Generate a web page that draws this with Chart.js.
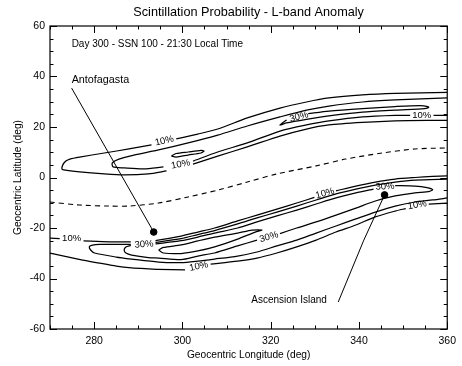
<!DOCTYPE html>
<html>
<head>
<meta charset="utf-8">
<script src="https://cdn.jsdelivr.net/npm/chart.js@4.4.1/dist/chart.umd.min.js"></script>
<style>
  html, body { margin: 0; padding: 0; background: #fff; }
</style>
</head>
<body>
<canvas id="chart" width="462" height="366"></canvas>
<script>
// axis ranges and tick labels
const xRange = [270, 360];
const yRange = [-60, 60];
const xTicks = [280, 300, 320, 340, 360];
const yTicks = [-60, -40, -20, 0, 20, 40, 60];

// contour lines as [longitude, latitude], null = gap for a label
const north10 = [[360,33.7],[348.2,33.3],[340.8,32.7],[333.2,31.5],[328.1,29.9],[322.1,27.5],[314.7,23.6],[308,19.2],[303.5,17.2],[298.6,15.3], null,
  [293,12.9],[287.9,11.3],[282.3,9.7],[276.7,8.1],[274.5,7.3],[273.6,6.5],[272.9,5.0],[272.7,3.4],[273.1,3.0],[276.7,2.2],[282.3,1.4],[286.8,1.0],[292.3,1.4],[296.4,2.6], null,
  [302.4,5.3],[308,8.5],[314.7,12.1],[322.1,16.4],[328.1,19.2],[333.2,20.8],[340.8,21.8],[348.2,22.4],[355.6,22.6],[360,22.6]];
const north20 = [[360,31.5],[348.2,30.7],[340.8,29.9],[333.2,28.3],[328.1,26.7],[322.1,24.0],[314.7,20.4],[308,16.8],[301.3,13.7],[294.6,10.9],[289,8.9],[285.6,7.3],[284.1,5.7],[284.3,4.2],[286.8,3.8],[291.2,3.4],[295.7,4.2], null,
  [302.4,6.5],[308,10.1],[314.7,13.7],[322.1,18.4],[328.1,20.8],[333.2,22.4],[340.8,24.0],[348.2,24.6],[351.6,24.6], null, [356.9,24.6],[360,24.6]];
const north30 = [[328.5,25.3],[333.2,26.3],[340.8,27.3],[348.2,28.1],[353.8,28.5],[355.6,28.1],[355.8,27.7],[354.9,27.3],[348.2,26.7],[340.8,25.9],[333.2,24.4],[328.1,23.0],[323.6,21.6],[322.1,20.8],[323.6,22.8]];
const north30Island = [[297.5,8.5],[298.6,9.5],[301.3,10.1],[304.2,10.7],[304.9,10.5],[304.2,9.7],[301.3,8.9],[298.6,8.1],[297.5,8.5]];

const south10 = [[270,-24.0],[272.2,-24.2], null,
  [277.6,-25.1],[283.4,-25.5],[288.3,-25.5], null,
  [293.9,-25.0],[299.7,-23.2],[303.5,-21.6],[307.3,-20.0],[312.5,-17.2],[316.9,-14.9],[321.4,-12.5],[325.9,-10.1],[329.9,-7.9], null,
  [334.8,-5.3],[339.3,-3.4],[343.7,-1.8],[348.2,-0.6],[352.7,0.0],[356.7,0.4],[360,0.6], null,
  [270,-29.9],[277.4,-32.7],[281.2,-33.9],[285,-35.1],[288.5,-35.8],[292.3,-36.2],[294.6,-36.4],[300.6,-36.6], null,
  [306.4,-34.3],[312.5,-33.1],[316.9,-31.9],[321.4,-29.9],[325.9,-27.5],[330.3,-24.8],[334.8,-21.6],[339.3,-18.8],[343.7,-15.6],[348.2,-13.3],[350.6,-12.3], null,
  [355.8,-10.5],[360,-10.1]];
const south20 = [[360,-0.6],[352.7,-1.0],[348.2,-1.8],[343.7,-3.0],[339.3,-4.6],[334.8,-6.5],[330.3,-8.9],[325.9,-11.3],[321.4,-13.7],[316.9,-16.0],[312.5,-18.4],[307.3,-21.0],[303.5,-22.6],[299.7,-24.2],[293.9,-25.7], null,
  [288.3,-26.5],[281.2,-26.5],[279.4,-26.9],[278.9,-27.5],[279.2,-28.7],[280.1,-29.9],[285,-31.5],[288.5,-32.3],[294.6,-33.5],[299.7,-33.7],[303.5,-33.1],[307.3,-32.3],[312.5,-31.1],[316.9,-29.5],[321.4,-27.1],[325.9,-24.8],[330.3,-22.0],[334.8,-19.2],[339.3,-16.4],[343.7,-13.7],[348.2,-11.3],[352.7,-9.7],[356.7,-8.9],[360,-8.1]];
const south30 = [[293.9,-26.3],[299.7,-25.0],[303.5,-23.6],[307.3,-22.0],[312.5,-20.0],[316.9,-17.6],[321.4,-15.2],[325.9,-12.9],[330.3,-10.5],[334.8,-8.1],[339.3,-6.1],[343.3,-4.6], null,
  [348.2,-3.2],[352.7,-3.4],[355.4,-4.0],[356.7,-4.8],[356,-5.5],[352.7,-6.1],[348.2,-7.3],[343.7,-9.3],[339.3,-12.1],[334.8,-14.9],[330.3,-17.6],[325.9,-20.0],[322.1,-22.2], null,
  [316.9,-24.8],[312.5,-27.1],[307.3,-29.9],[303.5,-31.1],[299.7,-32.5],[294.6,-31.9],[292.3,-31.7],[288.5,-30.7],[287.2,-29.9],[286.8,-28.7],[287.2,-27.5],[288.3,-26.9]];
const south40 = [[294.6,-28.7],[295.7,-27.7],[299.7,-26.7],[303.5,-25.1],[307.3,-23.6],[312.5,-22.0],[315.8,-20.8],[318,-20.8],[316.5,-21.6],[312.5,-24.4],[307.3,-27.5],[303.5,-29.1],[299.7,-30.1],[295.7,-29.9],[294.6,-28.7]];

// dashed line
const dipEquator = [[270,-9.7],[276.7,-10.9],[283.4,-11.3],[287.9,-11.3],[294.6,-10.1],[301.3,-7.7],[308,-5.0],[314.7,-1.8],[321.4,1.4],[330.3,4.6],[337,7.3],[345.3,9.7],[352.7,11.3],[360,11.7]];

// stations and leader lines
const stations = [[293.5,-21.6],[345.8,-6.9]];
const antofagastaLeader = [[274.9,35.4],[293.5,-21.6]];
const ascensionLeader = [[345.8,-6.9],[341.1,-24.8],[335.3,-49.3]];

// contour labels: text, lon, lat, angle (deg)
const contourLabels = [
  ['10%', 295.9, 14.5, -13], ['10%', 299.6, 5.2, -11], ['10%', 354.2, 24.6, 0], ['30%', 326.4, 24.0, -15],
  ['10%', 274.9, -24.0, 0], ['30%', 291.3, -26.5, -4], ['10%', 303.7, -35.2, -12], ['30%', 319.6, -23.6, -16],
  ['10%', 332.3, -6.3, -16], ['30%', 345.9, -3.6, -4], ['10%', 353.2, -10.9, -10]
];
const notes = [
  ['Day 300 - SSN 100 - 21:30 Local Time', 274.9, 52.9, 10],
  ['Antofagasta', 274.9, 38.6, 10.8],
  ['Ascension Island', 315.6, -48.5, 10]
];
const titleText = 'Scintillation Probability - L-band Anomaly';

const FONT = '"Liberation Sans", Arial, Helvetica, sans-serif';
Chart.defaults.font.family = FONT;
Chart.defaults.color = '#000';

function segments(points) {
  const out = [];
  let cur = [];
  points.forEach(p => {
    if (p === null) { if (cur.length) out.push(cur); cur = []; }
    else cur.push({ x: p[0], y: p[1] });
  });
  if (cur.length) out.push(cur);
  return out;
}

const datasets = [];
[north10, north20, north30, north30Island, south10, south20, south30, south40].forEach(c => {
  segments(c).forEach(seg => datasets.push({
    data: seg, showLine: true, pointRadius: 0, borderColor: '#000', borderWidth: 1.25, tension: 0.25
  }));
});
datasets.push({ data: segments(dipEquator)[0], showLine: true, pointRadius: 0, borderColor: '#000', borderWidth: 1.1, borderDash: [5, 4], tension: 0.3 });
[antofagastaLeader, ascensionLeader].forEach(l => datasets.push({
  data: segments(l)[0], showLine: true, pointRadius: 0, borderColor: '#000', borderWidth: 1, tension: 0
}));
datasets.push({ data: segments(stations)[0], showLine: false, pointRadius: 3.3, backgroundColor: '#000', borderColor: '#000' });

// inward ticks, frame and text
const decorations = {
  id: 'decorations',
  afterDatasetsDraw(chart) {
    const { ctx, chartArea: a, scales: { x, y } } = chart;
    ctx.save();
    ctx.strokeStyle = '#000';
    ctx.lineWidth = 1;
    ctx.beginPath();
    for (let v = xRange[0]; v <= xRange[1]; v += 5) {
      const px = Math.round(x.getPixelForValue(v)) + 0.5;
      const len = v % 20 === 0 ? 7 : 3.5;
      ctx.moveTo(px, a.bottom); ctx.lineTo(px, a.bottom - len);
      ctx.moveTo(px, a.top); ctx.lineTo(px, a.top + len);
    }
    for (let v = yRange[0]; v <= yRange[1]; v += 5) {
      const py = Math.round(y.getPixelForValue(v)) + 0.5;
      const len = v % 20 === 0 ? 7 : 3.5;
      ctx.moveTo(a.left, py); ctx.lineTo(a.left + len, py);
      ctx.moveTo(a.right, py); ctx.lineTo(a.right - len, py);
    }
    ctx.stroke();
    ctx.lineWidth = 1.2;
    ctx.strokeRect(a.left, a.top, a.right - a.left, a.bottom - a.top);

    ctx.fillStyle = '#000';
    ctx.textBaseline = 'middle';
    ctx.textAlign = 'center';
    ctx.font = '12.7px ' + FONT;
    ctx.fillText(titleText, (a.left + a.right) / 2, 12.5);

    ctx.font = '9.5px ' + FONT;
    contourLabels.forEach(([t, lon, lat, rot]) => {
      ctx.save();
      ctx.translate(x.getPixelForValue(lon), y.getPixelForValue(lat));
      ctx.rotate(rot * Math.PI / 180);
      ctx.fillText(t, 0, 0);
      ctx.restore();
    });

    ctx.textAlign = 'left';
    notes.forEach(([t, lon, lat, size]) => {
      ctx.font = size + 'px ' + FONT;
      ctx.fillText(t, x.getPixelForValue(lon), y.getPixelForValue(lat));
    });
    ctx.restore();
  }
};

new Chart(document.getElementById('chart'), {
  type: 'scatter',
  data: { datasets },
  options: {
    responsive: false,
    animation: false,
    layout: { padding: { top: 26, right: 9, bottom: 0, left: 0 } },
    plugins: { legend: { display: false }, tooltip: { enabled: false } },
    scales: {
      x: {
        type: 'linear', min: xRange[0], max: xRange[1],
        afterBuildTicks: s => { s.ticks = xTicks.map(v => ({ value: v })); },
        afterFit: s => { s.height = 37; },
        grid: { display: false, drawTicks: false },
        border: { display: false },
        ticks: { color: '#000', font: { size: 10.5 }, padding: 6, maxRotation: 0, autoSkip: false },
        title: { display: true, text: 'Geocentric Longitude (deg)', color: '#000', font: { size: 10.2 }, padding: { top: 0, bottom: 5 } }
      },
      y: {
        type: 'linear', min: yRange[0], max: yRange[1],
        afterBuildTicks: s => { s.ticks = yTicks.map(v => ({ value: v })); },
        afterFit: s => { s.width = 50; },
        grid: { display: false, drawTicks: false },
        border: { display: false },
        ticks: { color: '#000', font: { size: 10.5 }, padding: 5, autoSkip: false },
        title: { display: true, text: 'Geocentric Latitude (deg)', color: '#000', font: { size: 10.2 }, padding: { top: 12, bottom: 0 } }
      }
    }
  },
  plugins: [decorations]
});
</script>
</body>
</html>
